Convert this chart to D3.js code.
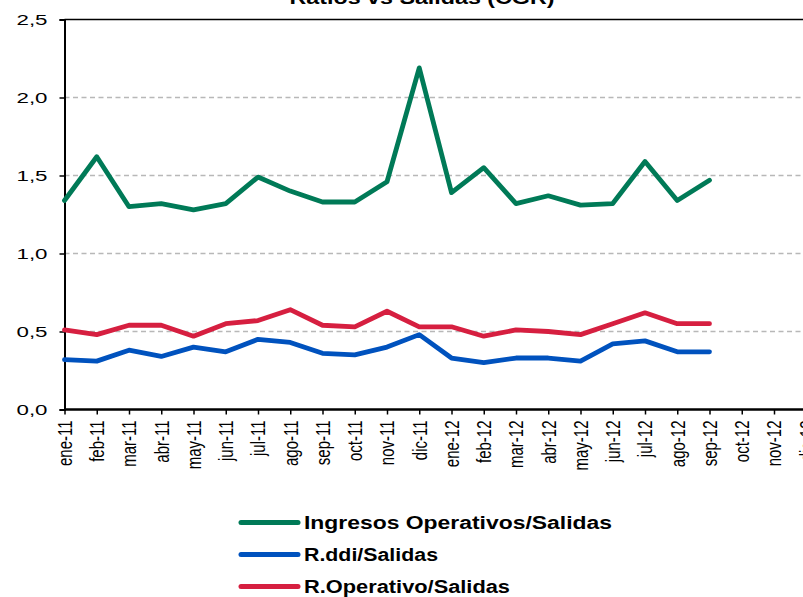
<!DOCTYPE html>
<html>
<head>
<meta charset="utf-8">
<script src="https://cdn.jsdelivr.net/npm/d3@7"></script>
<style>
  html, body { margin: 0; padding: 0; background: #fff; overflow: hidden; }
  svg { display: block; }
  text { font-family: "Liberation Sans", Arial, sans-serif; }
</style>
</head>
<body>
<svg id="chart" width="803" height="597"></svg>
<script>
const categories = ["ene-11","feb-11","mar-11","abr-11","may-11","jun-11","jul-11","ago-11","sep-11","oct-11","nov-11","dic-11",
                    "ene-12","feb-12","mar-12","abr-12","may-12","jun-12","jul-12","ago-12","sep-12","oct-12","nov-12","dic-12"];
const ingresosOperativos = [1.34,1.62,1.30,1.32,1.28,1.32,1.49,1.40,1.33,1.33,1.46,2.19,1.39,1.55,1.32,1.37,1.31,1.32,1.59,1.34,1.47];
const rDdi = [0.32,0.31,0.38,0.34,0.40,0.37,0.45,0.43,0.36,0.35,0.40,0.48,0.33,0.30,0.33,0.33,0.31,0.42,0.44,0.37,0.37];
const rOperativo = [0.51,0.48,0.54,0.54,0.47,0.55,0.57,0.64,0.54,0.53,0.63,0.53,0.53,0.47,0.51,0.50,0.48,0.55,0.62,0.55,0.55];
const yTicks = [0, 0.5, 1.0, 1.5, 2.0, 2.5];
const seriesNames = ["Ingresos Operativos/Salidas","R.ddi/Salidas","R.Operativo/Salidas"];
const seriesColors = ["#007a57","#0052be","#d61f40"];
const title = "Ratios vs Salidas (CGR)";

(function () {
const FONT = "'Liberation Sans', Arial, sans-serif";
const svg = d3.select("#chart");
const W = 803;
const pLeft = 64.5, pTop = 19.5, pBottom = 409.5;
const x = d3.scalePoint().domain(categories).range([pLeft, pLeft + 23 * 32.25]);
const y = d3.scaleLinear().domain([0, 2.5]).range([pBottom, pTop]);
const fmt = v => v.toFixed(1).replace(".", ",");

// gridlines
svg.append("g").selectAll("line").data(yTicks.filter(t => t > 0 && t < 2.5)).join("line")
  .attr("x1", pLeft).attr("x2", W).attr("y1", d => y(d)).attr("y2", d => y(d))
  .attr("stroke", "#b8b8b8").attr("stroke-width", 1.3).attr("stroke-dasharray", "5,3.5");
// top border
svg.append("line").attr("x1", pLeft).attr("x2", W).attr("y1", y(2.5)).attr("y2", y(2.5))
  .attr("stroke", "#000").attr("stroke-width", 1.3);

// Y axis
const yAxis = svg.append("g").attr("transform", `translate(${pLeft},0)`)
  .call(d3.axisLeft(y).tickValues(yTicks).tickFormat(fmt).tickSize(5).tickPadding(12));
yAxis.attr("font-family", FONT);
yAxis.select(".domain").attr("stroke", "#000").attr("stroke-width", 2);
yAxis.selectAll(".tick line").attr("stroke", "#000").attr("stroke-width", 1.5);
yAxis.selectAll(".tick text").attr("font-size", 15).attr("fill", "#000")
  .attr("textLength", 31).attr("lengthAdjust", "spacingAndGlyphs");

// X axis
const xAxis = svg.append("g").attr("transform", `translate(0,${pBottom})`)
  .call(d3.axisBottom(x).tickSize(5).tickSizeOuter(0));
xAxis.attr("font-family", FONT);
xAxis.select(".domain").attr("stroke", "#000").attr("stroke-width", 2.5).attr("d", `M${pLeft},0H${W}`);
xAxis.selectAll(".tick line").attr("stroke", "#000").attr("stroke-width", 1.5);
xAxis.selectAll(".tick text")
  .attr("font-size", 15).attr("fill", "#000")
  .attr("transform", "rotate(-90) scale(1,1.3)")
  .attr("text-anchor", "end").attr("x", -11).attr("y", 0).attr("dy", "0.35em");

// lines
const allSeries = [ingresosOperativos, rDdi, rOperativo];
const line = d3.line().x((d, i) => x(categories[i])).y(d => y(d));
allSeries.forEach((s, k) => {
  svg.append("path").datum(s).attr("d", line)
    .attr("fill", "none").attr("stroke", seriesColors[k]).attr("stroke-width", 4.8)
    .attr("stroke-linejoin", "round").attr("stroke-linecap", "round");
});

// title
svg.append("text").attr("x", 422).attr("y", 4).attr("text-anchor", "middle")
  .attr("font-size", 18).attr("font-weight", "bold").attr("fill", "#000")
  .attr("textLength", 265).attr("lengthAdjust", "spacingAndGlyphs").text(title);

// legend
const legendY = [522.5, 554.5, 586.5];
const legendW = [308, 134, 206];
seriesNames.forEach((n, k) => {
  svg.append("line").attr("x1", 241).attr("x2", 298).attr("y1", legendY[k]).attr("y2", legendY[k])
    .attr("stroke", seriesColors[k]).attr("stroke-width", 5).attr("stroke-linecap", "round");
  svg.append("text").attr("x", 304).attr("y", legendY[k]).attr("dy", "0.36em")
    .attr("font-size", 18).attr("font-weight", "bold").attr("fill", "#000")
    .attr("textLength", legendW[k]).attr("lengthAdjust", "spacingAndGlyphs").text(n);
});
})();
</script>
</body>
</html>
